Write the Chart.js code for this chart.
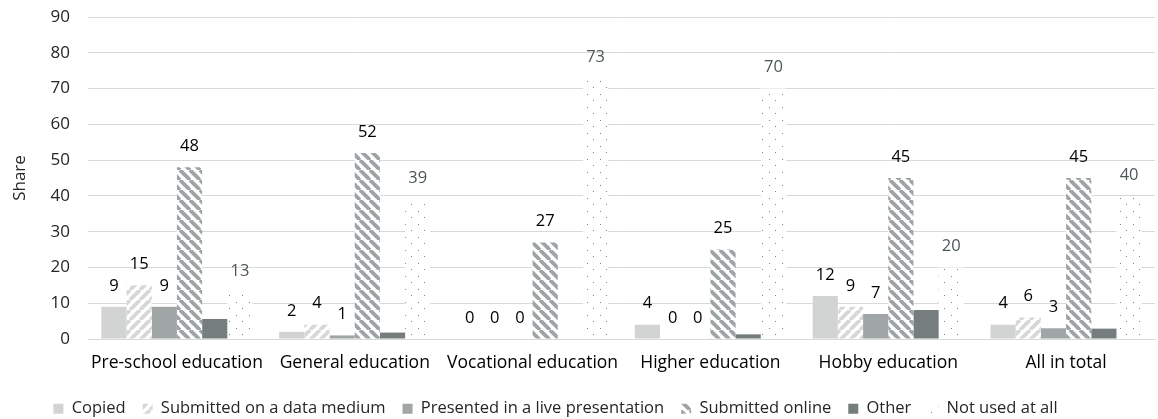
<!DOCTYPE html>
<html>
<head>
<meta charset="utf-8">
<script src="https://cdn.jsdelivr.net/npm/chart.js@4.4.1/dist/chart.umd.min.js"></script>
<style>
  html, body { margin: 0; padding: 0; background: #ffffff; }
  #wrap { width: 1158px; height: 419px; position: relative; }
</style>
</head>
<body>
<div id="wrap"><canvas id="chart" width="1158" height="419"></canvas></div>
<script>
// Categories and series values (shares, %)
const categories = ["Pre-school education", "General education", "Vocational education", "Higher education", "Hobby education", "All in total"];
const copied         = [9, 2, 0, 4, 12, 4];
const dataMedium     = [15, 4, 0, 0, 9, 6];
const livePresent    = [9, 1, 0, 0, 7, 3];
const submittedOnline = [48, 52, 27, 25, 45, 45];
const other          = [5.6, 1.8, 0, 1.3, 8.1, 2.9];
const notUsed        = [13, 39, 73, 70, 20, 40];
const yTicks = [0, 10, 20, 30, 40, 50, 60, 70, 80, 90];
const yTitle = 'Share';

const FONT = "'Open Sans', Lato, sans-serif";

function makePattern(w, h, draw) {
  const c = document.createElement('canvas');
  c.width = w; c.height = h;
  const g = c.getContext('2d');
  g.fillStyle = '#ffffff';
  g.fillRect(0, 0, w, h);
  draw(g, w, h);
  return document.getElementById('chart').getContext('2d').createPattern(c, 'repeat');
}

// "/" wide light stripes
const upStripes = makePattern(10, 10, (g, w, h) => {
  g.strokeStyle = '#d6d7d7';
  g.lineWidth = 3.8;
  for (let k = -1; k <= 1; k++) {
    g.beginPath();
    g.moveTo(k * w, h);
    g.lineTo(k * w + w, 0);
    g.stroke();
  }
});

// "\" mid-gray stripes
const downStripes = makePattern(10, 10, (g, w, h) => {
  g.strokeStyle = '#9ea3a5';
  g.lineWidth = 3.8;
  for (let k = -1; k <= 1; k++) {
    g.beginPath();
    g.moveTo(k * w, 0);
    g.lineTo(k * w + w, h);
    g.stroke();
  }
});

// sparse staggered dots
const dots = makePattern(13, 13, (g) => {
  g.fillStyle = '#808384';
  g.fillRect(2, 3, 1, 1);
  g.fillRect(8, 9, 1, 1);
});

const series = [
  { label: "Copied", data: copied, bg: '#d2d4d3', labels: true, lc: '#000000' },
  { label: "Submitted on a data medium", data: dataMedium, bg: upStripes, labels: true, lc: '#000000' },
  { label: "Presented in a live presentation", data: livePresent, bg: '#a0a5a5', labels: true, lc: '#000000' },
  { label: "Submitted online", data: submittedOnline, bg: downStripes, labels: true, lc: '#000000' },
  { label: "Other", data: other, bg: '#767d7d', labels: false, lc: '#000000' },
  { label: "Not used at all", data: notUsed, bg: dots, labels: true, lc: '#4b5759' }
];

// Value labels above each bar
const valueLabels = {
  id: 'valueLabels',
  afterDatasetsDraw(chart) {
    const ctx = chart.ctx;
    ctx.save();
    ctx.font = "16.5px " + FONT;
    ctx.textAlign = 'center';
    ctx.textBaseline = 'middle';
    chart.data.datasets.forEach((ds, i) => {
      if (!series[i].labels) return;
      const meta = chart.getDatasetMeta(i);
      ctx.fillStyle = series[i].lc;
      meta.data.forEach((bar, j) => {
        ctx.fillText(String(ds.data[j]), bar.x, bar.y - 21);
      });
    });
    ctx.restore();
  }
};

// Rotated value-axis title, centred on the plot area
const axisTitle = {
  id: 'axisTitle',
  afterDraw(chart) {
    const ctx = chart.ctx;
    const a = chart.chartArea;
    ctx.save();
    ctx.translate(20, (a.top + a.bottom) / 2);
    ctx.rotate(-Math.PI / 2);
    ctx.font = "17px " + FONT;
    ctx.fillStyle = '#262626';
    ctx.textAlign = 'center';
    ctx.textBaseline = 'middle';
    ctx.fillText(yTitle, 0, 0);
    ctx.restore();
  }
};

// Legend sits slightly left of the canvas centre
const legendShift = {
  id: 'legendShift',
  afterLayout(chart) {
    chart.legend.left -= 22;
    chart.legend.right -= 22;
  }
};

new Chart(document.getElementById('chart'), {
  type: 'bar',
  data: {
    labels: categories,
    datasets: series.map(s => ({
      label: s.label,
      data: s.data,
      backgroundColor: s.bg,
      borderWidth: 0,
      categoryPercentage: 0.85,
      barPercentage: 1.0
    }))
  },
  options: {
    responsive: false,
    animation: false,
    devicePixelRatio: 1,
    layout: { padding: { top: 17, right: 3, left: 0, bottom: -8 } },
    plugins: {
      legend: {
        position: 'bottom',
        labels: {
          boxWidth: 10,
          boxHeight: 10,
          padding: 17,
          color: '#262626',
          font: { family: FONT, size: 16.5 }
        }
      },
      tooltip: { enabled: false }
    },
    scales: {
      x: {
        afterFit(scale) { scale.height = 44.5; },
        grid: { display: false, drawTicks: false },
        border: { display: true, color: '#d9d9d9', width: 1 },
        ticks: { color: '#000000', font: { family: FONT, size: 17.5 }, padding: 14, maxRotation: 0 }
      },
      y: {
        min: 0,
        max: 90,
        afterBuildTicks(scale) { scale.ticks = yTicks.map(v => ({ value: v })); },
        afterFit(scale) { scale.width = 88; },
        grid: { color: '#d9d9d9', lineWidth: 1, drawTicks: true, tickLength: 18, tickColor: 'rgba(0,0,0,0)' },
        border: { display: false },
        ticks: { color: '#262626', font: { family: FONT, size: 17 }, padding: 0 }
      }
    }
  },
  plugins: [valueLabels, axisTitle, legendShift]
});
</script>
</body>
</html>
